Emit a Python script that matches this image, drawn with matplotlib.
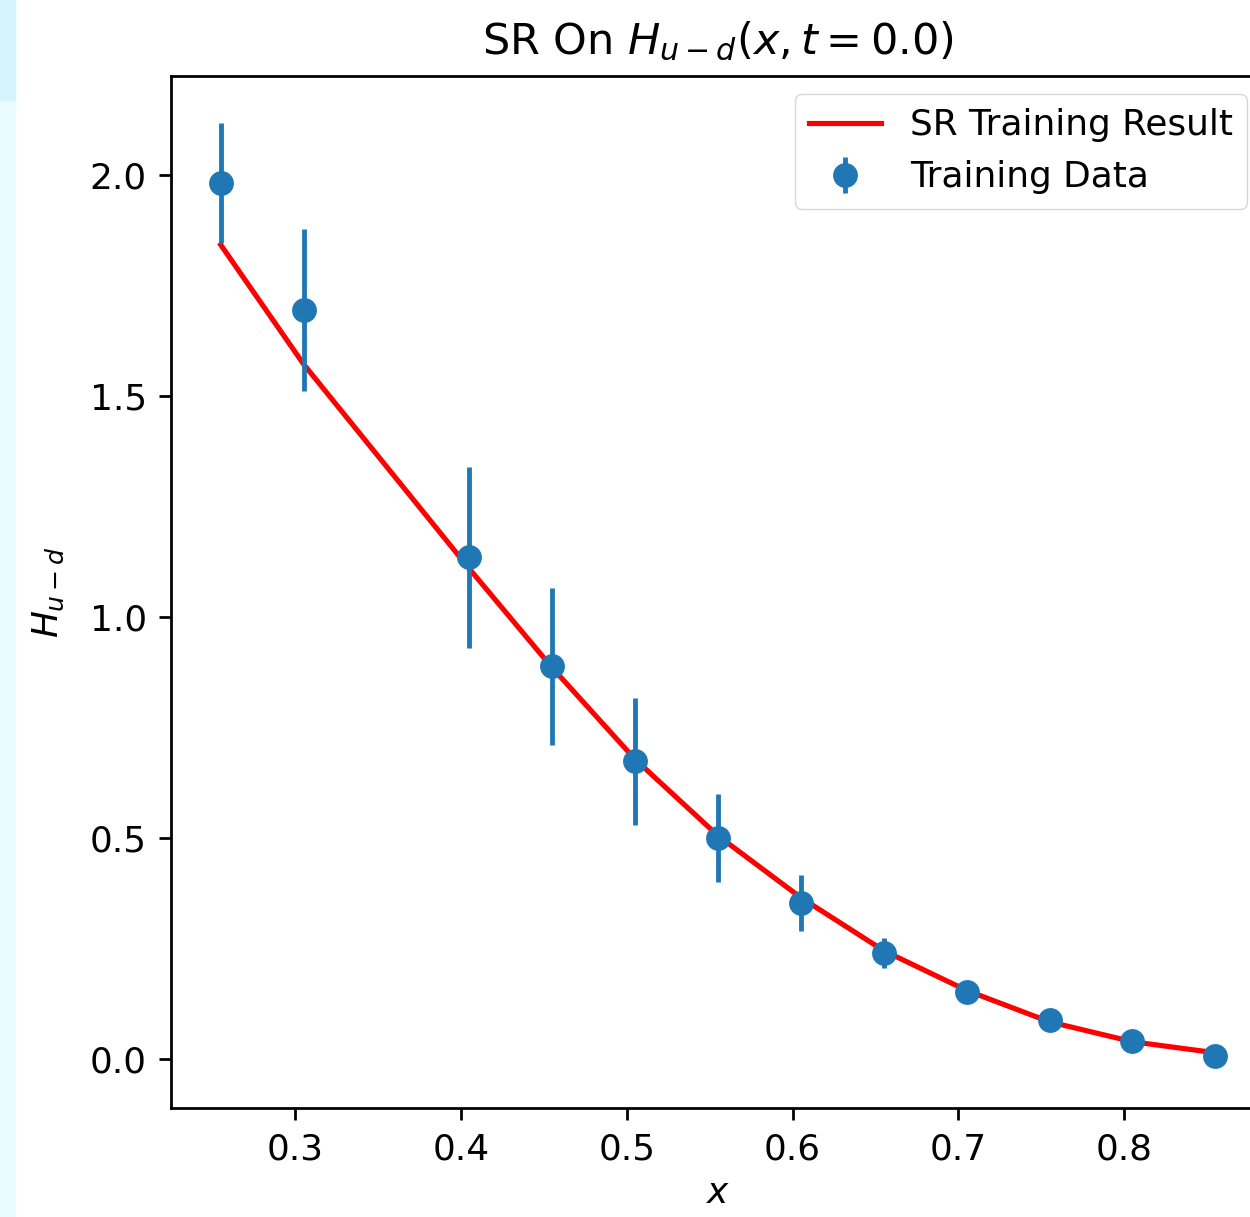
import numpy as np
import matplotlib
matplotlib.use("Agg")
import matplotlib.pyplot as plt
from matplotlib.patches import Rectangle

# training data
x_data = [0.255, 0.305, 0.405, 0.455, 0.505, 0.555, 0.605, 0.655, 0.705, 0.755, 0.805, 0.855]
y_data = [1.982, 1.695, 1.135, 0.888, 0.673, 0.500, 0.353, 0.240, 0.152, 0.088, 0.041, 0.006]
y_err = [0.135, 0.183, 0.205, 0.178, 0.144, 0.100, 0.064, 0.034, 0.012, 0.008, 0.005, 0.003]

# SR fit evaluated at the same x
y_fit = [1.842, 1.572, 1.109, 0.885, 0.678, 0.505, 0.365, 0.245, 0.155, 0.084, 0.039, 0.014]

k = 2.48   # line scale from matplotlib defaults to this image size
kt = 2.58  # text scale

fig = plt.figure(figsize=(12.5, 12.17), dpi=100)
# light cyan strip on the left edge of the screenshot
fig.patches.append(Rectangle((0, 0), 15 / 1250, 1, transform=fig.transFigure,
                             color="#e9fbfe", zorder=-1))
fig.patches.append(Rectangle((0, 1 - 100 / 1217), 15 / 1250, 100 / 1217,
                             transform=fig.transFigure, color="#d5f4fc", zorder=-1))

ax = fig.add_axes([171 / 1250, 109 / 1217, 1094 / 1250, 1032 / 1217])

ax.plot(x_data, y_fit, color="red", lw=1.5 * k, label="SR Training Result")
ax.errorbar(x_data, y_data, yerr=y_err, fmt="o", color="#1f77b4",
            ms=6.8 * k, elinewidth=1.4 * k, label="Training Data")

ax.set_xlim(0.225, 0.885)
ax.set_ylim(-0.111, 2.224)
ax.set_xticks([0.3, 0.4, 0.5, 0.6, 0.7, 0.8])
ax.set_yticks([0.0, 0.5, 1.0, 1.5, 2.0])

ax.tick_params(labelsize=10 * kt, width=0.8 * k, length=3.5 * k, pad=3.5 * k)
for s in ax.spines.values():
    s.set_linewidth(0.8 * k)

ax.set_xlabel("$x$", fontsize=10 * kt, labelpad=3 * k)
ax.set_ylabel("$H_{u-d}$", fontsize=10 * kt, labelpad=7 * k)
ax.set_title("SR On $H_{u-d}(x, t=0.0)$", fontsize=12 * kt, pad=6.5 * k)

ax.legend(loc="upper right", fontsize=10 * kt)

fig.savefig("out.png", dpi=100)
